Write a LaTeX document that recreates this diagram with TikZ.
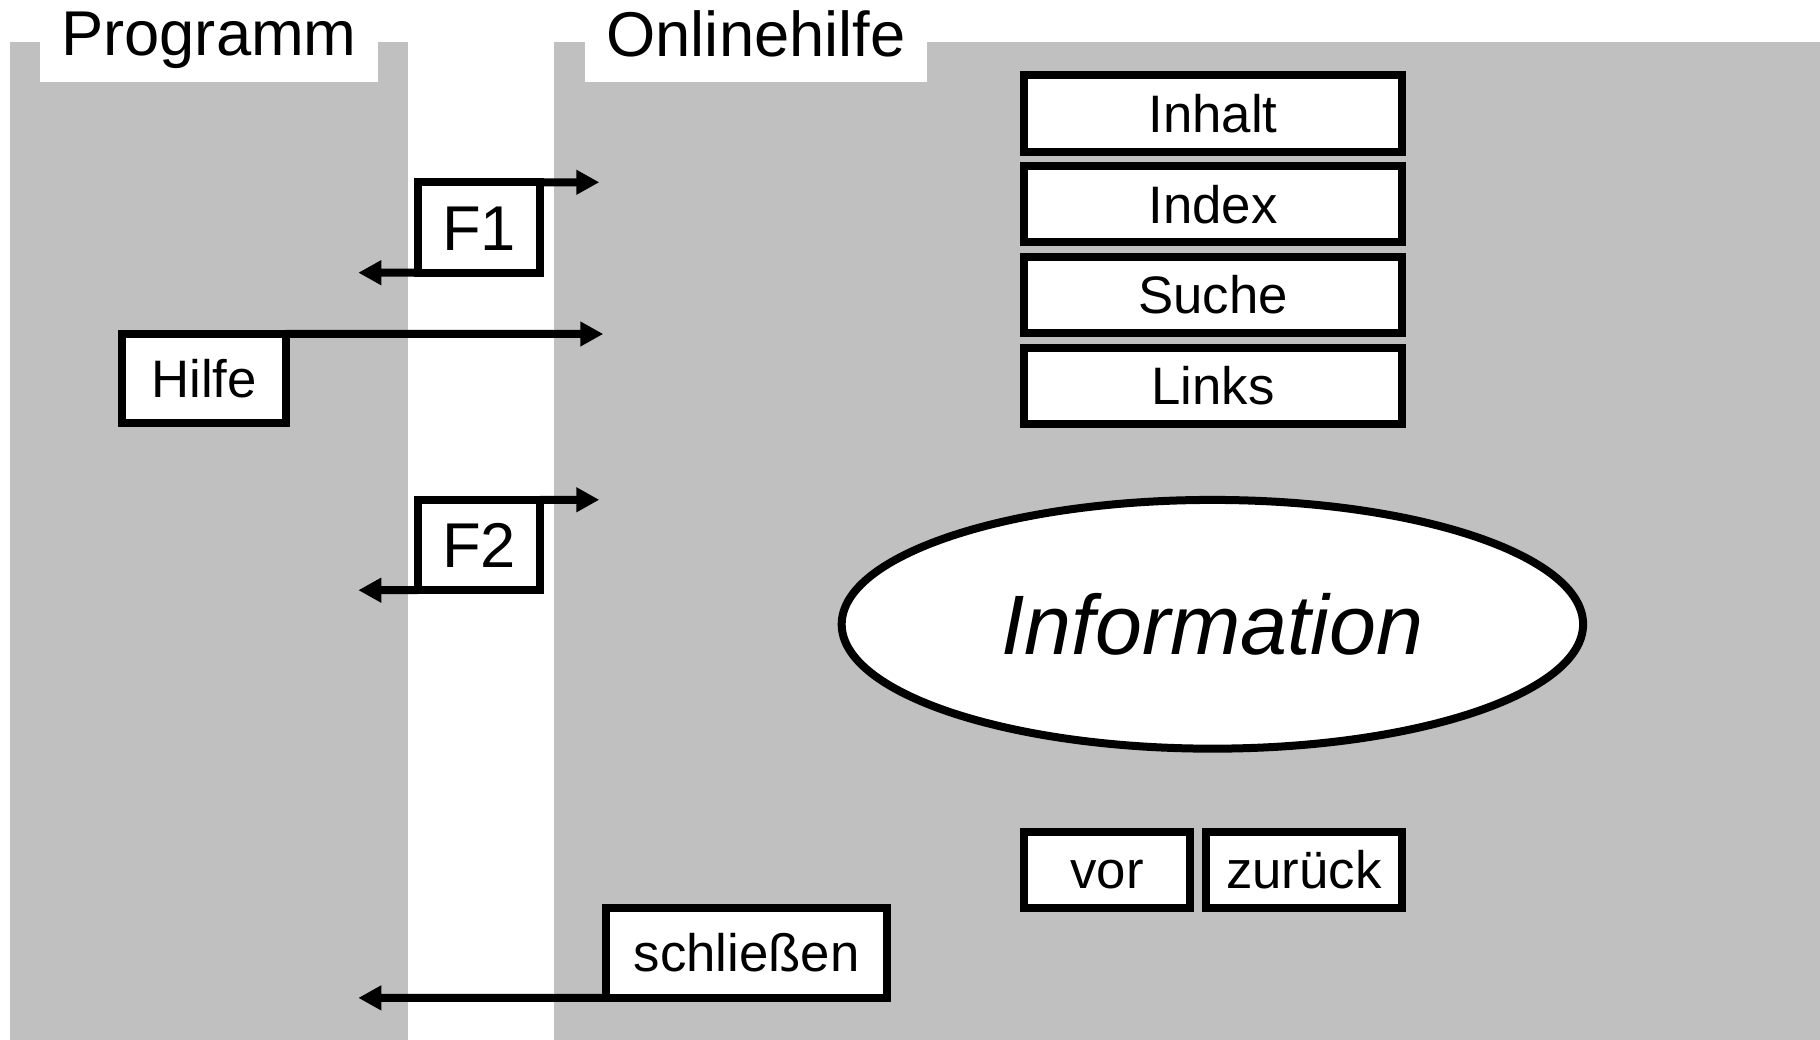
\documentclass[tikz,border=0pt]{standalone}
\usepackage{fontspec}
\setmainfont{Liberation Sans}
\usepackage{xcolor}
\usetikzlibrary{arrows.meta,shapes.geometric}
\definecolor{panelgray}{RGB}{192,192,192}

\begin{document}
\begin{tikzpicture}[x=0.01cm,y=-0.01cm,
  key/.style={draw,fill=white,line width=0.08cm,inner sep=0pt,outer sep=0pt,
    text height=10.7pt,text depth=0pt,font=\fontsize{15}{18}\selectfont},
  fkey/.style={key,minimum width=1.22cm,minimum height=0.904cm,
    text height=12.9pt,font=\fontsize{18}{21}\selectfont},
  link/.style={line width=0.08cm,-{Triangle[length=0.23cm,width=0.235cm]}}]
\useasboundingbox (0,0) rectangle (1820,1040);
% the two panels with their titles
\fill[panelgray] (10,42) rectangle (408,1040);
\fill[panelgray] (554,42) rectangle (1820,1040);
\fill[white] (40,0) rectangle (378,82);
\fill[white] (585,0) rectangle (927,82);
\node[anchor=base,font=\fontsize{18}{21}\selectfont] (prog) at (209,56) {Programm};
\node[anchor=base,font=\fontsize{18}{21}\selectfont] (online) at (756,57) {Onlinehilfe};

% keys between the panels
\node[fkey] (F1) at (479,227.5) {F1};
\node[fkey] (F2) at (479,545) {F2};
\node[key,minimum width=1.64cm,minimum height=0.89cm] (hilfe) at (204,378.5) {Hilfe};
\node[key,minimum width=2.81cm,minimum height=0.897cm] (close) at (746.5,953) {schließen};

% navigation of the help
\foreach \name/\txt [count=\i from 0] in {inhalt/Inhalt,index/Index,suche/Suche,links/Links}
  \node[key,minimum width=3.78cm,minimum height=0.76cm] (\name) at (1213,{113.5+90.7*\i}) {\txt};
\node[key,minimum width=1.66cm,minimum height=0.754cm] (vor) at (1107,870) {vor};
\node[key,minimum width=1.963cm,minimum height=0.754cm] (zurueck) at (1303.9,870) {zurück};
\node[ellipse,draw,fill=white,line width=0.08cm,inner sep=0pt,minimum width=7.41cm,
  minimum height=2.486cm,text height=17.2pt,text depth=0pt,
  font=\fontsize{24}{29}\itshape] (info) at (1212.4,624.3) {Information};

% arrows
\coordinate (f1in) at (599.3,182.3);
\coordinate (f1back) at (358.3,272.7);
\coordinate (f2in) at (599.3,499.8);
\coordinate (f2back) at (358.3,590.2);
\coordinate (hilfein) at (603.3,334);
\coordinate (closeback) at (358.3,997.9);
\draw[link] (F1.north east) -- (f1in);
\draw[link] (F1.south west) -- (f1back);
\draw[link] (F2.north east) -- (f2in);
\draw[link] (F2.south west) -- (f2back);
\draw[link] (hilfe.north east) -- (hilfein);
\draw[link] (close.south west) -- (closeback);
\end{tikzpicture}
\end{document}
